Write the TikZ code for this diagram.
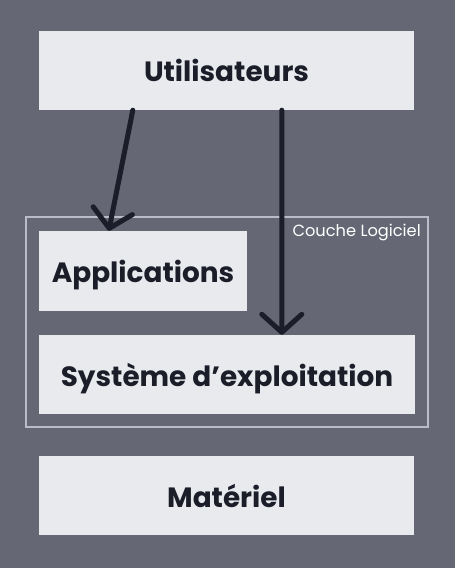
\documentclass[tikz,border=0pt]{standalone}
\usepackage{fontspec}
\setmainfont{Poppins}
\usepackage{tikz}
\usepackage{xcolor}
\usetikzlibrary{arrows.meta}
\definecolor{bg-grey}{HTML}{656874}
\definecolor{box-fill}{HTML}{E9EAEE}
\definecolor{ink}{HTML}{1B1E29}
\definecolor{frame-grey}{HTML}{BABDC7}
\tikzset{
    layer-box/.style = {fill=box-fill, text=ink, rectangle, inner sep=0pt, minimum height=79bp, text depth=0pt, font=\fontsize{28}{32}\selectfont\bfseries},
    layer-frame/.style = {draw=frame-grey, line width=1.5bp, rectangle, inner sep=0pt},
    layer-title/.style = {text=white, font=\fontsize{16.3}{18}\selectfont, anchor=east, inner sep=0pt},
    flow-arrow/.style = {draw=ink, line width=5bp, line cap=round, -{Straight Barb[length=18bp, width=40bp, round]}},
}
\begin{document}
\begin{tikzpicture}[x=1bp, y=-1bp]
\fill[bg-grey] (0,0) rectangle (455,568);
\useasboundingbox (0,0) rectangle (455,568);
\node [layer-frame, minimum width=402bp, minimum height=210bp] (logiciel) at (227,322) {};
\node [layer-title] (logiciel-title) at (421,233) {Couche Logiciel};
\node [layer-box, minimum width=375bp] (users) at (226.5,70.5) {Utilisateurs};
\node [layer-box, minimum width=208bp, minimum height=80bp] (apps) at (143,271) {Applications};
\node [layer-box, minimum width=376bp] (os) at (227,374.5) {Système d’exploitation};
\node [layer-box, minimum width=375bp] (hw) at (226.5,495.5) {Matériel};
\draw [flow-arrow] ([xshift=94bp]users.south west) -- ([xshift=70bp]apps.north west);
\draw [flow-arrow] ([xshift=243bp]users.south west) -- ([xshift=243bp]os.north west);
\end{tikzpicture}
\end{document}
